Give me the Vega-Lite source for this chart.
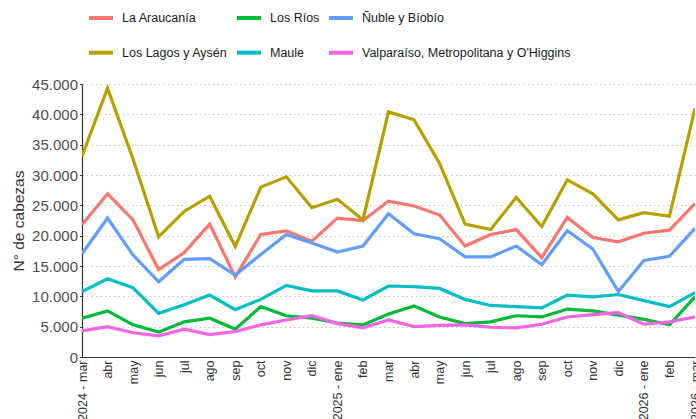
{
  "$schema": "https://vega.github.io/schema/vega-lite/v6.json",
  "width": 613,
  "height": 273,
  "autosize": {"type": "none"},
  "padding": {"left": 82, "top": 84, "right": 1, "bottom": 62},
  "background": "white",
  "data": {"values": [
    {"fecha": "2024-03", "region": "La Araucanía", "cabezas": 21800},
    {"fecha": "2024-04", "region": "La Araucanía", "cabezas": 26900},
    {"fecha": "2024-05", "region": "La Araucanía", "cabezas": 22600},
    {"fecha": "2024-06", "region": "La Araucanía", "cabezas": 14400},
    {"fecha": "2024-07", "region": "La Araucanía", "cabezas": 17200},
    {"fecha": "2024-08", "region": "La Araucanía", "cabezas": 21900},
    {"fecha": "2024-09", "region": "La Araucanía", "cabezas": 13200},
    {"fecha": "2024-10", "region": "La Araucanía", "cabezas": 20200},
    {"fecha": "2024-11", "region": "La Araucanía", "cabezas": 20800},
    {"fecha": "2024-12", "region": "La Araucanía", "cabezas": 19100},
    {"fecha": "2025-01", "region": "La Araucanía", "cabezas": 22900},
    {"fecha": "2025-02", "region": "La Araucanía", "cabezas": 22500},
    {"fecha": "2025-03", "region": "La Araucanía", "cabezas": 25700},
    {"fecha": "2025-04", "region": "La Araucanía", "cabezas": 24900},
    {"fecha": "2025-05", "region": "La Araucanía", "cabezas": 23400},
    {"fecha": "2025-06", "region": "La Araucanía", "cabezas": 18300},
    {"fecha": "2025-07", "region": "La Araucanía", "cabezas": 20200},
    {"fecha": "2025-08", "region": "La Araucanía", "cabezas": 21000},
    {"fecha": "2025-09", "region": "La Araucanía", "cabezas": 16400},
    {"fecha": "2025-10", "region": "La Araucanía", "cabezas": 23000},
    {"fecha": "2025-11", "region": "La Araucanía", "cabezas": 19700},
    {"fecha": "2025-12", "region": "La Araucanía", "cabezas": 19000},
    {"fecha": "2026-01", "region": "La Araucanía", "cabezas": 20400},
    {"fecha": "2026-02", "region": "La Araucanía", "cabezas": 20900},
    {"fecha": "2026-03", "region": "La Araucanía", "cabezas": 25300},
    {"fecha": "2024-03", "region": "Los Lagos y Aysén", "cabezas": 33100},
    {"fecha": "2024-04", "region": "Los Lagos y Aysén", "cabezas": 44300},
    {"fecha": "2024-05", "region": "Los Lagos y Aysén", "cabezas": 32600},
    {"fecha": "2024-06", "region": "Los Lagos y Aysén", "cabezas": 19800},
    {"fecha": "2024-07", "region": "Los Lagos y Aysén", "cabezas": 24000},
    {"fecha": "2024-08", "region": "Los Lagos y Aysén", "cabezas": 26500},
    {"fecha": "2024-09", "region": "Los Lagos y Aysén", "cabezas": 18200},
    {"fecha": "2024-10", "region": "Los Lagos y Aysén", "cabezas": 28000},
    {"fecha": "2024-11", "region": "Los Lagos y Aysén", "cabezas": 29700},
    {"fecha": "2024-12", "region": "Los Lagos y Aysén", "cabezas": 24600},
    {"fecha": "2025-01", "region": "Los Lagos y Aysén", "cabezas": 26000},
    {"fecha": "2025-02", "region": "Los Lagos y Aysén", "cabezas": 22600},
    {"fecha": "2025-03", "region": "Los Lagos y Aysén", "cabezas": 40400},
    {"fecha": "2025-04", "region": "Los Lagos y Aysén", "cabezas": 39100},
    {"fecha": "2025-05", "region": "Los Lagos y Aysén", "cabezas": 31900},
    {"fecha": "2025-06", "region": "Los Lagos y Aysén", "cabezas": 21900},
    {"fecha": "2025-07", "region": "Los Lagos y Aysén", "cabezas": 21000},
    {"fecha": "2025-08", "region": "Los Lagos y Aysén", "cabezas": 26300},
    {"fecha": "2025-09", "region": "Los Lagos y Aysén", "cabezas": 21500},
    {"fecha": "2025-10", "region": "Los Lagos y Aysén", "cabezas": 29200},
    {"fecha": "2025-11", "region": "Los Lagos y Aysén", "cabezas": 26900},
    {"fecha": "2025-12", "region": "Los Lagos y Aysén", "cabezas": 22600},
    {"fecha": "2026-01", "region": "Los Lagos y Aysén", "cabezas": 23800},
    {"fecha": "2026-02", "region": "Los Lagos y Aysén", "cabezas": 23200},
    {"fecha": "2026-03", "region": "Los Lagos y Aysén", "cabezas": 41000},
    {"fecha": "2024-03", "region": "Los Ríos", "cabezas": 6400},
    {"fecha": "2024-04", "region": "Los Ríos", "cabezas": 7600},
    {"fecha": "2024-05", "region": "Los Ríos", "cabezas": 5300},
    {"fecha": "2024-06", "region": "Los Ríos", "cabezas": 4100},
    {"fecha": "2024-07", "region": "Los Ríos", "cabezas": 5800},
    {"fecha": "2024-08", "region": "Los Ríos", "cabezas": 6400},
    {"fecha": "2024-09", "region": "Los Ríos", "cabezas": 4600},
    {"fecha": "2024-10", "region": "Los Ríos", "cabezas": 8300},
    {"fecha": "2024-11", "region": "Los Ríos", "cabezas": 6800},
    {"fecha": "2024-12", "region": "Los Ríos", "cabezas": 6400},
    {"fecha": "2025-01", "region": "Los Ríos", "cabezas": 5600},
    {"fecha": "2025-02", "region": "Los Ríos", "cabezas": 5300},
    {"fecha": "2025-03", "region": "Los Ríos", "cabezas": 7100},
    {"fecha": "2025-04", "region": "Los Ríos", "cabezas": 8400},
    {"fecha": "2025-05", "region": "Los Ríos", "cabezas": 6600},
    {"fecha": "2025-06", "region": "Los Ríos", "cabezas": 5500},
    {"fecha": "2025-07", "region": "Los Ríos", "cabezas": 5800},
    {"fecha": "2025-08", "region": "Los Ríos", "cabezas": 6800},
    {"fecha": "2025-09", "region": "Los Ríos", "cabezas": 6600},
    {"fecha": "2025-10", "region": "Los Ríos", "cabezas": 7900},
    {"fecha": "2025-11", "region": "Los Ríos", "cabezas": 7600},
    {"fecha": "2025-12", "region": "Los Ríos", "cabezas": 6900},
    {"fecha": "2026-01", "region": "Los Ríos", "cabezas": 6200},
    {"fecha": "2026-02", "region": "Los Ríos", "cabezas": 5300},
    {"fecha": "2026-03", "region": "Los Ríos", "cabezas": 9900},
    {"fecha": "2024-03", "region": "Maule", "cabezas": 10800},
    {"fecha": "2024-04", "region": "Maule", "cabezas": 12900},
    {"fecha": "2024-05", "region": "Maule", "cabezas": 11400},
    {"fecha": "2024-06", "region": "Maule", "cabezas": 7200},
    {"fecha": "2024-07", "region": "Maule", "cabezas": 8600},
    {"fecha": "2024-08", "region": "Maule", "cabezas": 10200},
    {"fecha": "2024-09", "region": "Maule", "cabezas": 7800},
    {"fecha": "2024-10", "region": "Maule", "cabezas": 9500},
    {"fecha": "2024-11", "region": "Maule", "cabezas": 11800},
    {"fecha": "2024-12", "region": "Maule", "cabezas": 10900},
    {"fecha": "2025-01", "region": "Maule", "cabezas": 10900},
    {"fecha": "2025-02", "region": "Maule", "cabezas": 9400},
    {"fecha": "2025-03", "region": "Maule", "cabezas": 11700},
    {"fecha": "2025-04", "region": "Maule", "cabezas": 11600},
    {"fecha": "2025-05", "region": "Maule", "cabezas": 11300},
    {"fecha": "2025-06", "region": "Maule", "cabezas": 9500},
    {"fecha": "2025-07", "region": "Maule", "cabezas": 8500},
    {"fecha": "2025-08", "region": "Maule", "cabezas": 8300},
    {"fecha": "2025-09", "region": "Maule", "cabezas": 8100},
    {"fecha": "2025-10", "region": "Maule", "cabezas": 10200},
    {"fecha": "2025-11", "region": "Maule", "cabezas": 9900},
    {"fecha": "2025-12", "region": "Maule", "cabezas": 10300},
    {"fecha": "2026-01", "region": "Maule", "cabezas": 9300},
    {"fecha": "2026-02", "region": "Maule", "cabezas": 8300},
    {"fecha": "2026-03", "region": "Maule", "cabezas": 10600},
    {"fecha": "2024-03", "region": "Ñuble y Bíobío", "cabezas": 17000},
    {"fecha": "2024-04", "region": "Ñuble y Bíobío", "cabezas": 22900},
    {"fecha": "2024-05", "region": "Ñuble y Bíobío", "cabezas": 16800},
    {"fecha": "2024-06", "region": "Ñuble y Bíobío", "cabezas": 12400},
    {"fecha": "2024-07", "region": "Ñuble y Bíobío", "cabezas": 16100},
    {"fecha": "2024-08", "region": "Ñuble y Bíobío", "cabezas": 16200},
    {"fecha": "2024-09", "region": "Ñuble y Bíobío", "cabezas": 13500},
    {"fecha": "2024-10", "region": "Ñuble y Bíobío", "cabezas": 16900},
    {"fecha": "2024-11", "region": "Ñuble y Bíobío", "cabezas": 20200},
    {"fecha": "2024-12", "region": "Ñuble y Bíobío", "cabezas": 18800},
    {"fecha": "2025-01", "region": "Ñuble y Bíobío", "cabezas": 17300},
    {"fecha": "2025-02", "region": "Ñuble y Bíobío", "cabezas": 18300},
    {"fecha": "2025-03", "region": "Ñuble y Bíobío", "cabezas": 23600},
    {"fecha": "2025-04", "region": "Ñuble y Bíobío", "cabezas": 20300},
    {"fecha": "2025-05", "region": "Ñuble y Bíobío", "cabezas": 19500},
    {"fecha": "2025-06", "region": "Ñuble y Bíobío", "cabezas": 16500},
    {"fecha": "2025-07", "region": "Ñuble y Bíobío", "cabezas": 16500},
    {"fecha": "2025-08", "region": "Ñuble y Bíobío", "cabezas": 18300},
    {"fecha": "2025-09", "region": "Ñuble y Bíobío", "cabezas": 15200},
    {"fecha": "2025-10", "region": "Ñuble y Bíobío", "cabezas": 20800},
    {"fecha": "2025-11", "region": "Ñuble y Bíobío", "cabezas": 17800},
    {"fecha": "2025-12", "region": "Ñuble y Bíobío", "cabezas": 10800},
    {"fecha": "2026-01", "region": "Ñuble y Bíobío", "cabezas": 15900},
    {"fecha": "2026-02", "region": "Ñuble y Bíobío", "cabezas": 16600},
    {"fecha": "2026-03", "region": "Ñuble y Bíobío", "cabezas": 21200},
    {"fecha": "2024-03", "region": "Valparaíso, Metropolitana y O'Higgins", "cabezas": 4300},
    {"fecha": "2024-04", "region": "Valparaíso, Metropolitana y O'Higgins", "cabezas": 5000},
    {"fecha": "2024-05", "region": "Valparaíso, Metropolitana y O'Higgins", "cabezas": 4000},
    {"fecha": "2024-06", "region": "Valparaíso, Metropolitana y O'Higgins", "cabezas": 3500},
    {"fecha": "2024-07", "region": "Valparaíso, Metropolitana y O'Higgins", "cabezas": 4600},
    {"fecha": "2024-08", "region": "Valparaíso, Metropolitana y O'Higgins", "cabezas": 3700},
    {"fecha": "2024-09", "region": "Valparaíso, Metropolitana y O'Higgins", "cabezas": 4200},
    {"fecha": "2024-10", "region": "Valparaíso, Metropolitana y O'Higgins", "cabezas": 5300},
    {"fecha": "2024-11", "region": "Valparaíso, Metropolitana y O'Higgins", "cabezas": 6100},
    {"fecha": "2024-12", "region": "Valparaíso, Metropolitana y O'Higgins", "cabezas": 6800},
    {"fecha": "2025-01", "region": "Valparaíso, Metropolitana y O'Higgins", "cabezas": 5500},
    {"fecha": "2025-02", "region": "Valparaíso, Metropolitana y O'Higgins", "cabezas": 4800},
    {"fecha": "2025-03", "region": "Valparaíso, Metropolitana y O'Higgins", "cabezas": 6100},
    {"fecha": "2025-04", "region": "Valparaíso, Metropolitana y O'Higgins", "cabezas": 5000},
    {"fecha": "2025-05", "region": "Valparaíso, Metropolitana y O'Higgins", "cabezas": 5200},
    {"fecha": "2025-06", "region": "Valparaíso, Metropolitana y O'Higgins", "cabezas": 5300},
    {"fecha": "2025-07", "region": "Valparaíso, Metropolitana y O'Higgins", "cabezas": 4900},
    {"fecha": "2025-08", "region": "Valparaíso, Metropolitana y O'Higgins", "cabezas": 4800},
    {"fecha": "2025-09", "region": "Valparaíso, Metropolitana y O'Higgins", "cabezas": 5400},
    {"fecha": "2025-10", "region": "Valparaíso, Metropolitana y O'Higgins", "cabezas": 6600},
    {"fecha": "2025-11", "region": "Valparaíso, Metropolitana y O'Higgins", "cabezas": 7000},
    {"fecha": "2025-12", "region": "Valparaíso, Metropolitana y O'Higgins", "cabezas": 7300},
    {"fecha": "2026-01", "region": "Valparaíso, Metropolitana y O'Higgins", "cabezas": 5400},
    {"fecha": "2026-02", "region": "Valparaíso, Metropolitana y O'Higgins", "cabezas": 5800},
    {"fecha": "2026-03", "region": "Valparaíso, Metropolitana y O'Higgins", "cabezas": 6600}
  ]},
  "mark": {"type": "line", "strokeWidth": 3.2, "clip": true},
  "encoding": {
    "x": {
      "field": "fecha",
      "type": "ordinal",
      "sort": null,
      "scale": {"type": "point", "padding": 0},
      "axis": {
        "title": null,
        "labelAngle": -90,
        "labelFont": "Liberation Sans",
        "labelFontSize": 12.5,
        "labelColor": "#333333",
        "labelPadding": 3,
        "ticks": false,
        "domainColor": "#333333",
        "domainWidth": 1.2,
        "grid": false,
        "labelExpr": "(slice(datum.value,5)=='01' || datum.value=='2024-03' || datum.value=='2026-03' ? slice(datum.value,0,4) + ' - ' : '') + ['ene','feb','mar','abr','may','jun','jul','ago','sep','oct','nov','dic'][toNumber(slice(datum.value,5))-1]"
      }
    },
    "y": {
      "field": "cabezas",
      "type": "quantitative",
      "scale": {"domain": [0, 45000], "nice": false, "zero": true},
      "axis": {
        "title": "N° de cabezas",
        "titleFont": "Liberation Sans",
        "titleFontSize": 15.5,
        "titleFontWeight": "normal",
        "titleColor": "#333333",
        "titlePadding": 5,
        "values": [0, 5000, 10000, 15000, 20000, 25000, 30000, 35000, 40000, 45000],
        "labelExpr": "replace(format(datum.value, ','), ',', '.')",
        "labelFont": "Liberation Sans",
        "labelFontSize": 15,
        "labelColor": "#4d4d4d",
        "labelPadding": 2,
        "tickSize": 2.5,
        "tickColor": "#333333",
        "domainColor": "#333333",
        "domainWidth": 1.2,
        "grid": true,
        "gridColor": "#c4c4c4",
        "gridDash": [1.5, 3],
        "gridWidth": 1
      }
    },
    "color": {
      "field": "region",
      "type": "nominal",
      "scale": {
        "domain": ["La Araucanía", "Los Ríos", "Ñuble y Bíobío", "Los Lagos y Aysén", "Maule", "Valparaíso, Metropolitana y O'Higgins"],
        "range": ["#F8766D", "#00BA38", "#619CFF", "#B79F00", "#00BFC4", "#F564E3"]
      },
      "legend": {
        "title": null,
        "orient": "none",
        "legendX": 5,
        "legendY": -80,
        "direction": "horizontal",
        "columns": 3,
        "padding": 0,
        "symbolType": "stroke",
        "symbolStrokeWidth": 4,
        "symbolSize": 576,
        "labelFont": "Liberation Sans",
        "labelFontSize": 12.5,
        "labelColor": "#1a1a1a",
        "labelOffset": 7,
        "rowPadding": 12.7,
        "columnPadding": 1,
        "labelLimit": 400
      }
    }
  },
  "config": {
    "view": {"stroke": null}
  }
}
